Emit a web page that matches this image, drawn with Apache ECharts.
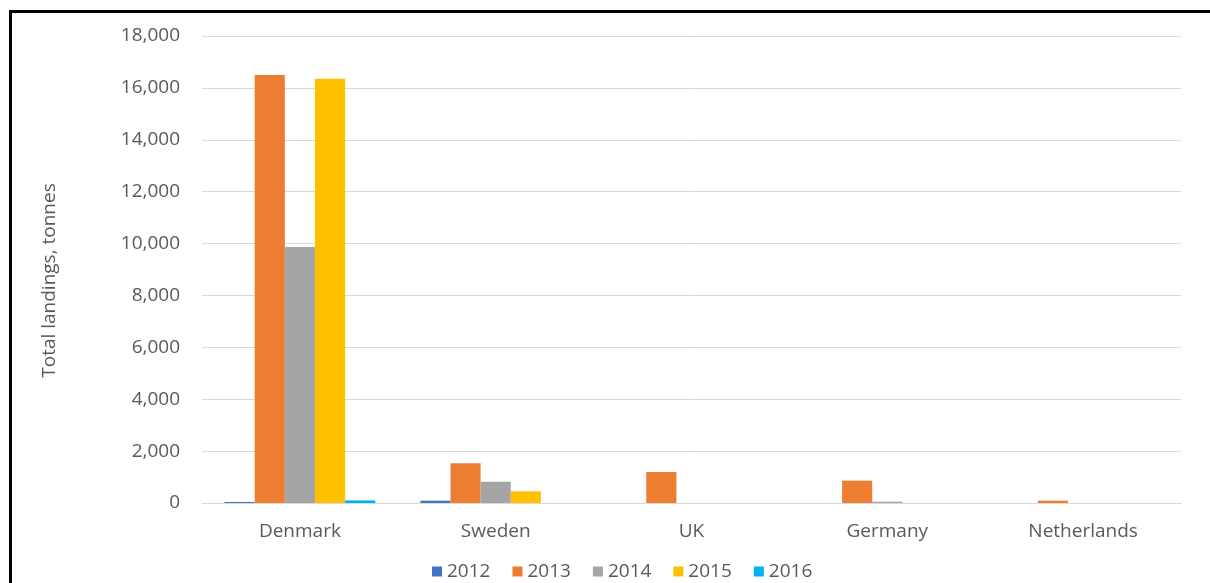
<!DOCTYPE html>
<html><head><meta charset="utf-8">
<script src="https://cdn.jsdelivr.net/npm/echarts@6/dist/echarts.min.js"></script>
<style>
html,body{margin:0;padding:0;background:#fff;overflow:hidden;}
#frame{position:absolute;left:9px;top:10px;width:1400px;height:800px;border-top:3px solid #000;border-left:3px solid #000;}
#c{position:absolute;left:0;top:0;width:1210px;height:583px;}
</style></head>
<body>
<div id="frame"></div>
<div id="c"></div>
<script>
const categories = ['Denmark', 'Sweden', 'UK', 'Germany', 'Netherlands'];
const years = ['2012', '2013', '2014', '2015', '2016'];
const v2012 = [40, 90, 0, 0, 0];
const v2013 = [16500, 1530, 1195, 860, 90];
const v2014 = [9870, 820, 0, 50, 0];
const v2015 = [16350, 450, 0, 0, 0];
const v2016 = [100, 0, 0, 0, 0];
const yTicks = { min: 0, max: 18000, interval: 2000 };
const colors = ['#4472c4', '#ed7d31', '#a5a5a5', '#ffc000', '#00b0f0'];
const seriesValues = [v2012, v2013, v2014, v2015, v2016];

const font = '"Open Sans", sans-serif';
const chart = echarts.init(document.getElementById('c'), null, { renderer: 'canvas' });
chart.setOption({
  animation: false,
  color: colors,
  grid: { left: 202, right: 29, top: 36, bottom: 80, containLabel: false },
  legend: {
    top: 557, left: 427,
    itemWidth: 10, itemHeight: 10, itemGap: 22,
    icon: 'rect',
    textStyle: { color: '#595959', fontSize: 19, fontFamily: font },
    data: years
  },
  xAxis: {
    type: 'category', data: categories,
    axisLine: { lineStyle: { color: '#d9d9d9', width: 1 } },
    axisTick: { show: false },
    axisLabel: { color: '#595959', fontSize: 19, fontFamily: font, margin: 19 }
  },
  yAxis: {
    type: 'value', min: yTicks.min, max: yTicks.max, interval: yTicks.interval,
    name: 'Total landings, tonnes', nameLocation: 'middle', nameGap: 143, nameRotate: 90,
    nameTextStyle: { color: '#595959', fontSize: 19, fontFamily: font, padding: [0, 22, 0, 0] },
    axisLine: { show: false }, axisTick: { show: false },
    splitLine: { lineStyle: { color: '#d9d9d9', width: 1 } },
    axisLabel: { color: '#595959', fontSize: 19, fontFamily: font, margin: 22,
      formatter: v => v.toLocaleString('en-US') }
  },
  series: years.map((y, i) => ({
    name: y, type: 'bar', data: seriesValues[i],
    barGap: '0%', barCategoryGap: '23%',
    itemStyle: { color: colors[i] }
  }))
});
</script>
</body></html>
